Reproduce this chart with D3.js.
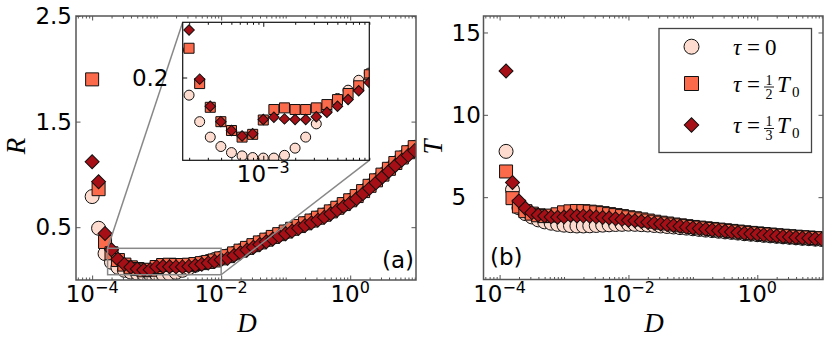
<!DOCTYPE html>
<html>
<head>
<meta charset="utf-8">
<script src="https://cdn.jsdelivr.net/npm/d3@7"></script>
<style>
  body { margin: 0; background: #fff; }
  svg { display: block; }
</style>
</head>
<body>
<svg id="chart" width="830" height="344"></svg>
<script>
// exponents of D (log10), one point per tenth of a decade
const expD = [-4.0, -3.9, -3.8, -3.7, -3.6, -3.5, -3.4, -3.3, -3.2, -3.1, -3.0,
  -2.9, -2.8, -2.7, -2.6, -2.5, -2.4, -2.3, -2.2, -2.1, -2.0,
  -1.9, -1.8, -1.7, -1.6, -1.5, -1.4, -1.3, -1.2, -1.1, -1.0,
  -0.9, -0.8, -0.7, -0.6, -0.5, -0.4, -0.3, -0.2, -0.1, 0.0,
  0.1, 0.2, 0.3, 0.4, 0.5, 0.6, 0.7, 0.8, 0.9, 1.0];

// panel (a): R
const R_tau0 = [0.79, 0.49, 0.25, 0.168, 0.120, 0.092, 0.075, 0.064, 0.058, 0.055, 0.054,
  0.054, 0.059, 0.072, 0.092, 0.116, 0.140, 0.162, 0.177, 0.195, 0.208,
  0.228, 0.252, 0.277, 0.302, 0.328, 0.354, 0.380, 0.406, 0.432, 0.457,
  0.483, 0.509, 0.535, 0.561, 0.588, 0.616, 0.648, 0.682, 0.717, 0.753,
  0.793, 0.840, 0.890, 0.942, 0.996, 1.051, 1.106, 1.158, 1.208, 1.256];
const R_half = [1.90, 0.86, 0.36, 0.253, 0.189, 0.146, 0.120, 0.104, 0.092, 0.097, 0.123,
  0.142, 0.145, 0.142, 0.142, 0.145, 0.151, 0.160, 0.171, 0.185, 0.205,
  0.226, 0.252, 0.278, 0.304, 0.330, 0.356, 0.382, 0.408, 0.434, 0.459,
  0.485, 0.511, 0.537, 0.563, 0.590, 0.618, 0.650, 0.684, 0.719, 0.755,
  0.795, 0.842, 0.892, 0.944, 0.998, 1.053, 1.108, 1.160, 1.210, 1.258];
const R_third = [1.12, 0.93, 0.44, 0.286, 0.197, 0.148, 0.120, 0.104, 0.094, 0.098, 0.124,
  0.128, 0.125, 0.124, 0.124, 0.129, 0.137, 0.148, 0.160, 0.176, 0.191,
  0.205, 0.232, 0.258, 0.284, 0.310, 0.336, 0.362, 0.388, 0.413, 0.438,
  0.463, 0.489, 0.515, 0.541, 0.567, 0.595, 0.628, 0.662, 0.696, 0.730,
  0.770, 0.818, 0.868, 0.920, 0.975, 1.030, 1.085, 1.135, 1.180, 1.225];

// panel (b): T
const T_tau0 = [null, 7.78, 5.45, 4.35, 4.00, 3.80, 3.62, 3.50, 3.42, 3.35, 3.30,
  3.27, 3.25, 3.25, 3.26, 3.28, 3.30, 3.32, 3.34, 3.35, 3.36,
  3.35, 3.33, 3.31, 3.28, 3.25, 3.22, 3.19, 3.15, 3.12, 3.08,
  3.04, 3.00, 2.97, 2.93, 2.89, 2.86, 2.82, 2.78, 2.75, 2.72,
  2.68, 2.65, 2.62, 2.59, 2.56, 2.53, 2.50, 2.48, 2.45, 2.43];
const T_half = [null, 6.56, 4.94, 4.43, 4.15, 4.00, 3.90, 3.85, 3.88, 3.96, 4.08,
  4.14, 4.16, 4.15, 4.12, 4.08, 4.03, 3.97, 3.91, 3.85, 3.78,
  3.72, 3.65, 3.58, 3.51, 3.45, 3.40, 3.34, 3.29, 3.24, 3.19,
  3.15, 3.11, 3.07, 3.03, 2.99, 2.95, 2.91, 2.87, 2.83, 2.80,
  2.76, 2.73, 2.69, 2.66, 2.63, 2.60, 2.57, 2.55, 2.52, 2.50];
const T_third = [null, 12.66, 5.89, 4.77, 4.33, 4.06, 3.92, 3.86, 3.80, 3.78, 3.80,
  3.90, 3.86, 3.85, 3.84, 3.80, 3.76, 3.73, 3.69, 3.65, 3.60,
  3.57, 3.52, 3.47, 3.41, 3.37, 3.33, 3.28, 3.23, 3.18, 3.13,
  3.09, 3.05, 3.01, 2.97, 2.93, 2.89, 2.85, 2.81, 2.78, 2.75,
  2.71, 2.68, 2.64, 2.61, 2.58, 2.55, 2.52, 2.50, 2.47, 2.45];

const xMajors = [-4, -2, 0];
const rTicks = [0.5, 1.5, 2.5];
const tTicks = [5, 10, 15];
const insetXMajor = [-3];
const insetYTicks = [0.2];

const colors = { circle: "#fddccf", square: "#fb6a4a", diamond: "#a50f15" };
const spine = "#555";
const sans = "DejaVu Sans, sans-serif";
const serif = "Liberation Serif, DejaVu Serif, serif";

const svg = d3.select("#chart");
const D = expD.map(e => Math.pow(10, e));

const xDomain = [Math.pow(10, -4.25), Math.pow(10, 1.02)];
const xA = d3.scaleLog().domain(xDomain).range([76, 416]);
const yA = d3.scaleLinear().domain([0, 2.5]).range([280, 16]);
const xB = d3.scaleLog().domain(xDomain).range([483.5, 823]);
const yB = d3.scaleLinear().domain([0, 16]).range([279.5, 16]);
const xI = d3.scaleLog().domain([Math.pow(10, -3.76), 1e-2]).range([182.7, 369.3]);
const yI = d3.scaleLinear().domain([0.05, 0.3]).range([160.3, 22.3]);

function symbolPath(kind, size) {
  if (kind === "circle") return d3.symbol(d3.symbolCircle, Math.PI * size * size / 4)();
  return d3.symbol(d3.symbolSquare, size * size)();
}

function drawMarkers(g, vals, x, y, kind, size) {
  const pts = D.map((d, i) => ({ d, v: vals[i] })).filter(p => p.v != null);
  g.selectAll(null).data(pts).enter().append("path")
    .attr("d", symbolPath(kind, kind === "diamond" ? size / Math.SQRT2 : size))
    .attr("transform", p => `translate(${x(p.d)},${y(p.v)})` + (kind === "diamond" ? " rotate(45)" : ""))
    .attr("fill", colors[kind])
    .attr("stroke", "#111")
    .attr("stroke-width", 1);
}

function clip(id, x, y) {
  svg.append("clipPath").attr("id", id).append("rect")
    .attr("x", x.range()[0]).attr("y", y.range()[1])
    .attr("width", x.range()[1] - x.range()[0]).attr("height", y.range()[0] - y.range()[1]);
}

function logTicks(g, x, y, majors) {
  const all = x.ticks();
  const minor = all.filter(v => !majors.some(m => Math.abs(Math.log10(v) - m) < 1e-6));
  const majorVals = majors.map(m => Math.pow(10, m));
  const [y0, y1] = [y.range()[0], y.range()[1]];
  [[majorVals, 4.5], [minor, 2.5]].forEach(([vals, len]) => {
    g.append("g").attr("transform", `translate(0,${y0})`)
      .call(d3.axisBottom(x).tickValues(vals).tickSizeInner(-len).tickSizeOuter(0).tickFormat(""));
    g.append("g").attr("transform", `translate(0,${y1})`)
      .call(d3.axisTop(x).tickValues(vals).tickSizeInner(-len).tickSizeOuter(0).tickFormat(""));
  });
  majors.forEach(m => {
    const t = g.append("text").attr("x", x(Math.pow(10, m))).attr("y", y0 + 22)
      .attr("text-anchor", "middle").attr("font-family", sans).attr("font-size", 23);
    t.append("tspan").text("10");
    t.append("tspan").attr("dy", -9).attr("font-size", 16).text(m === 0 ? "0" : "\u2212" + Math.abs(m).toString().replace("\u2212", ""));
  });
}

function linTicks(g, x, y, vals) {
  const [x0, x1] = x.range();
  g.append("g").attr("transform", `translate(${x0},0)`)
    .call(d3.axisLeft(y).tickValues(vals).tickSizeInner(-4.5).tickSizeOuter(0).tickFormat(""));
  g.append("g").attr("transform", `translate(${x1},0)`)
    .call(d3.axisRight(y).tickValues(vals).tickSizeInner(-4.5).tickSizeOuter(0).tickFormat(""));
}

function frame(g, x, y, color, width) {
  g.selectAll(".domain").remove();
  g.selectAll(".tick line").attr("stroke", color);
  g.append("rect")
    .attr("x", x.range()[0]).attr("y", y.range()[1])
    .attr("width", x.range()[1] - x.range()[0]).attr("height", y.range()[0] - y.range()[1])
    .attr("fill", "none").attr("stroke", color).attr("stroke-width", width);
}

// ---------- panel (a)
clip("clipA", xA, yA);
const gA = svg.append("g");
const pA = gA.append("g").attr("clip-path", "url(#clipA)");
drawMarkers(pA, R_tau0, xA, yA, "circle", 14);
drawMarkers(pA, R_half, xA, yA, "square", 13);
drawMarkers(pA, R_third, xA, yA, "diamond", 14);

// zoom rectangle and connectors
const zx0 = xA(xI.domain()[0]), zx1 = xA(xI.domain()[1]);
const zy0 = yA(yI.domain()[1]), zy1 = yA(yI.domain()[0]);
gA.append("rect").attr("x", zx0).attr("y", zy0).attr("width", zx1 - zx0).attr("height", zy1 - zy0)
  .attr("fill", "none").attr("stroke", "#888").attr("stroke-width", 1.5);
gA.append("line").attr("x1", zx0).attr("y1", zy0).attr("x2", xI.range()[0]).attr("y2", yI.range()[1])
  .attr("stroke", "#888").attr("stroke-width", 1.5);
gA.append("line").attr("x1", zx1).attr("y1", zy1).attr("x2", xI.range()[1]).attr("y2", yI.range()[0])
  .attr("stroke", "#888").attr("stroke-width", 1.5);

const axA = gA.append("g");
logTicks(axA, xA, yA, xMajors);
linTicks(axA, xA, yA, rTicks);
frame(axA, xA, yA, spine, 1.5);
rTicks.forEach(v => axA.append("text").attr("x", 72).attr("y", yA(v)).attr("dy", "0.36em")
  .attr("text-anchor", "end").attr("font-family", sans).attr("font-size", 23).text(v.toFixed(1)));
gA.append("text").attr("x", 414).attr("y", 268).attr("text-anchor", "end")
  .attr("font-family", sans).attr("font-size", 23).text("(a)");
gA.append("text").attr("transform", "translate(25,146) rotate(-90)").attr("text-anchor", "middle")
  .attr("font-family", serif).attr("font-style", "italic").attr("font-size", 27).text("R");
gA.append("text").attr("x", 247).attr("y", 332).attr("text-anchor", "middle")
  .attr("font-family", serif).attr("font-style", "italic").attr("font-size", 27).text("D");

// inset
clip("clipI", xI, yI);
const gI = svg.append("g");
gI.append("rect").attr("x", xI.range()[0]).attr("y", yI.range()[1])
  .attr("width", xI.range()[1] - xI.range()[0]).attr("height", yI.range()[0] - yI.range()[1]).attr("fill", "#fff");
const pI = gI.append("g").attr("clip-path", "url(#clipI)");
drawMarkers(pI, R_tau0, xI, yI, "circle", 10);
drawMarkers(pI, R_half, xI, yI, "square", 10);
drawMarkers(pI, R_third, xI, yI, "diamond", 10.5);
const axI = gI.append("g");
logTicks(axI, xI, yI, insetXMajor);
linTicks(axI, xI, yI, insetYTicks);
frame(axI, xI, yI, "#111", 1.2);
insetYTicks.forEach(v => axI.append("text").attr("x", 168.5).attr("y", yI(v)).attr("dy", "0.36em")
  .attr("text-anchor", "end").attr("font-family", sans).attr("font-size", 23).text(v.toFixed(1)));

// ---------- panel (b)
clip("clipB", xB, yB);
const gB = svg.append("g");
const pB = gB.append("g").attr("clip-path", "url(#clipB)");
drawMarkers(pB, T_tau0, xB, yB, "circle", 14);
drawMarkers(pB, T_half, xB, yB, "square", 13);
drawMarkers(pB, T_third, xB, yB, "diamond", 14);
const axB = gB.append("g");
logTicks(axB, xB, yB, xMajors);
linTicks(axB, xB, yB, tTicks);
frame(axB, xB, yB, spine, 1.5);
tTicks.forEach(v => axB.append("text").attr("x", 451.5).attr("y", yB(v)).attr("dy", "0.36em")
  .attr("text-anchor", "start").attr("font-family", sans).attr("font-size", 23).text(v));
gB.append("text").attr("x", 490).attr("y", 265)
  .attr("font-family", sans).attr("font-size", 23).text("(b)");
gB.append("text").attr("transform", "translate(442,147) rotate(-90)").attr("text-anchor", "middle")
  .attr("font-family", serif).attr("font-style", "italic").attr("font-size", 27).text("T");
gB.append("text").attr("x", 654).attr("y", 332).attr("text-anchor", "middle")
  .attr("font-family", serif).attr("font-style", "italic").attr("font-size", 27).text("D");

// legend
const leg = gB.append("g");
leg.append("rect").attr("x", 659).attr("y", 28.5).attr("width", 152.5).attr("height", 124)
  .attr("fill", "#fff").attr("stroke", "#444").attr("stroke-width", 1.3);
const legend = [
  { kind: "circle", size: 15, y: 46.7, frac: null },
  { kind: "square", size: 14, y: 83.5, frac: "2" },
  { kind: "diamond", size: 14.5, y: 125, frac: "3" }
];
legend.forEach(e => {
  leg.append("path").attr("d", symbolPath(e.kind, e.kind === "diamond" ? e.size / Math.SQRT2 : e.size))
    .attr("transform", `translate(691.5,${e.y})` + (e.kind === "diamond" ? " rotate(45)" : ""))
    .attr("fill", colors[e.kind]).attr("stroke", "#111").attr("stroke-width", 1);
  const base = e.y + 8;
  const txt = (x, y, s, opts = {}) => leg.append("text").attr("x", x).attr("y", y)
    .attr("font-family", serif).attr("font-size", opts.size || 23)
    .attr("font-style", opts.italic ? "italic" : "normal")
    .attr("text-anchor", opts.anchor || "start").text(s);
  txt(733, base, "\u03c4", { italic: true });
  txt(747, base, "=");
  if (!e.frac) {
    txt(765, base, "0");
  } else {
    txt(769, base - 7, "1", { size: 14, anchor: "middle" });
    leg.append("line").attr("x1", 764).attr("x2", 774).attr("y1", base - 4.5).attr("y2", base - 4.5)
      .attr("stroke", "#000").attr("stroke-width", 0.9);
    txt(769, base + 7, e.frac, { size: 14, anchor: "middle" });
    txt(777, base, "T", { italic: true });
    txt(792, base + 5, "0", { size: 15 });
  }
});
</script>
</body>
</html>
